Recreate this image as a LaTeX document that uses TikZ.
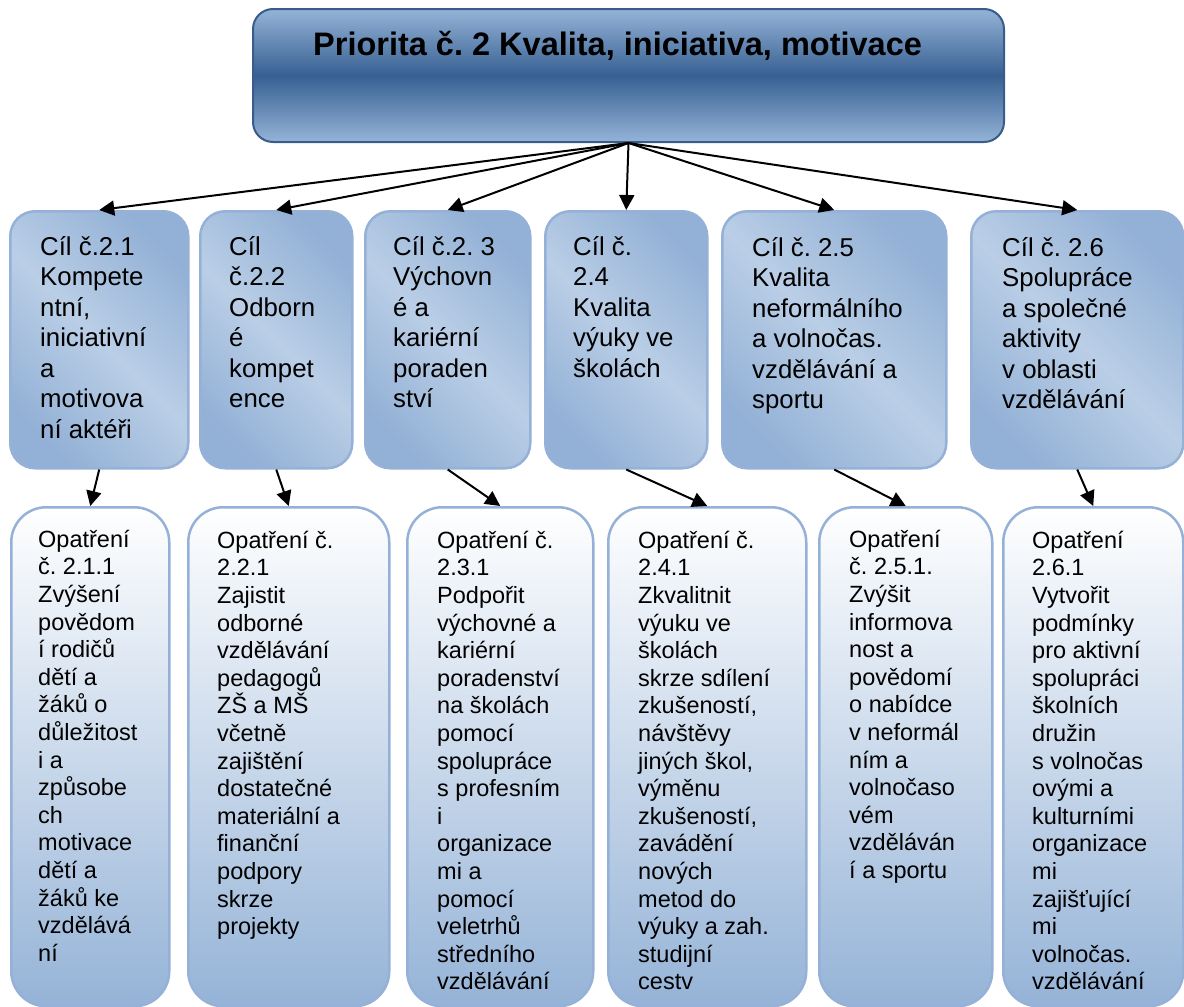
\documentclass[tikz,border=0pt]{standalone}
\usepackage{fontspec}
\setmainfont{Liberation Sans}
\usetikzlibrary{arrows.meta}
\frenchspacing

\definecolor{priolight}{HTML}{95B3D7}
\definecolor{priodark}{HTML}{376092}
\definecolor{prioedge}{HTML}{385D8A}
\definecolor{goallight}{HTML}{BACEE6}
\definecolor{goaldark}{HTML}{93B1D6}
\definecolor{goaledge}{HTML}{95B1D7}
\definecolor{measdark}{HTML}{95B3D7}
\definecolor{measedge}{HTML}{95B1D7}

% fixed height of the first line, so that every text starts at the same baseline
\newcommand\gstrut{\rule{0pt}{24pt}}
\newcommand\mstrut{\rule{0pt}{21pt}}

\tikzset{
  prio/.style={draw=prioedge,line width=2pt,rounded corners=20pt,
    top color=priolight,bottom color=priolight,middle color=priodark,
    minimum width=751pt,minimum height=133pt,anchor=north west,inner sep=0pt},
  goalbox/.style={draw=goaledge,line width=2.5pt,rounded corners=25pt,
    top color=goaldark,bottom color=goaldark,middle color=goallight,shading angle=-45,
    minimum height=257pt,anchor=north west,inner sep=0pt},
  measbox/.style={draw=measedge,line width=2.5pt,rounded corners=35pt,
    top color=white,bottom color=measdark,
    minimum height=499pt,anchor=north west,inner sep=0pt},
  priotext/.style={anchor=base west,inner sep=0pt,font=\bfseries\fontsize{32.5}{38}\selectfont},
  goaltext/.style={anchor=north west,align=left,inner sep=0pt,font=\fontsize{25.8}{30.5}\selectfont},
  meastext/.style={anchor=north west,align=left,inner sep=0pt,font=\fontsize{23.5}{27.6}\selectfont},
  link/.style={line width=2pt,-{Triangle[length=15pt,width=15pt]}},
}

\begin{document}
\begin{tikzpicture}[x=1pt,y=-1pt]
  \useasboundingbox (0,0) rectangle (1184,1007);

  % priority
  \node[prio] (prio) at (252,8) {};
  \node[priotext] (priot) at (313,55) {Priorita č. 2 Kvalita, iniciativa, motivace};

  % goals
  \node[goalbox,minimum width=178pt] (g1) at (9,210) {};
  \node[goalbox,minimum width=152pt] (g2) at (199,210) {};
  \node[goalbox,minimum width=165pt] (g3) at (364,210) {};
  \node[goalbox,minimum width=162pt] (g4) at (544,210) {};
  \node[goalbox,minimum width=224pt] (g5) at (721,210) {};
  \node[goalbox,minimum width=212pt] (g6) at (970,210) {};

  \node[goaltext] (g1t) at (40,231) {\gstrut Cíl č.2.1\\Kompete\\ntní,\\iniciativní\\a\\motivova\\ní aktéři};
  \node[goaltext] (g2t) at (229,231) {\gstrut Cíl\\č.2.2\\Odborn\\é\\kompet\\ence};
  \node[goaltext] (g3t) at (393,231) {\gstrut Cíl č.2. 3\\Výchovn\\é a\\kariérní\\poraden\\ství};
  \node[goaltext] (g4t) at (573,231) {\gstrut Cíl č.\\2.4\\Kvalita\\výuky ve\\školách};
  \node[goaltext] (g5t) at (752,232) {\gstrut Cíl č. 2.5\\Kvalita\\neformálního\\a volnočas.\\vzdělávání a\\sportu};
  \node[goaltext] (g6t) at (1002,232) {\gstrut Cíl č. 2.6\\Spolupráce\\a společné\\aktivity\\v oblasti\\vzdělávání};

  % measures
  \node[measbox,minimum width=158pt] (m1) at (10,506) {};
  \node[measbox,minimum width=201pt] (m2) at (187,506) {};
  \node[measbox,minimum width=186pt] (m3) at (406,506) {};
  \node[measbox,minimum width=198pt] (m4) at (607,506) {};
  \node[measbox,minimum width=173pt] (m5) at (818,506) {};
  \node[measbox,minimum width=180pt] (m6) at (1002,506) {};

  \node[meastext] (m1t) at (38,526) {\mstrut Opatření\\č. 2.1.1\\Zvýšení\\povědom\\í rodičů\\dětí a\\žáků o\\důležitost\\i a\\způsobe\\ch\\motivace\\dětí a\\žáků ke\\vzdělává\\ní};
  \node[meastext] (m2t) at (217,527) {\mstrut Opatření č.\\2.2.1\\Zajistit\\odborné\\vzdělávání\\pedagogů\\ZŠ a MŠ\\včetně\\zajištění\\dostatečné\\materiální a\\finanční\\podpory\\skrze\\projekty};
  \node[meastext] (m3t) at (437,527) {\mstrut Opatření č.\\2.3.1\\Podpořit\\výchovné a\\kariérní\\poradenství\\na školách\\pomocí\\spolupráce\\s profesním\\i\\organizace\\mi a\\pomocí\\veletrhů\\středního\\vzdělávání};
  \node[meastext] (m4t) at (638,527) {\mstrut Opatření č.\\2.4.1\\Zkvalitnit\\výuku ve\\školách\\skrze sdílení\\zkušeností,\\návštěvy\\jiných škol,\\výměnu\\zkušeností,\\zavádění\\nových\\metod do\\výuky a zah.\\studijní\\cestv};
  \node[meastext] (m5t) at (849,526) {\mstrut Opatření\\č. 2.5.1.\\Zvýšit\\informova\\nost a\\povědomí\\o nabídce\\v neformál\\ním a\\volnočaso\\vém\\vzděláván\\í a sportu};
  \node[meastext] (m6t) at (1032,527) {\mstrut Opatření\\2.6.1\\Vytvořit\\podmínky\\pro aktivní\\spolupráci\\školních\\družin\\s volnočas\\ovými a\\kulturními\\organizace\\mi\\zajišťující\\mi\\volnočas.\\vzdělávání};

  % arrows
  \path[draw,link] (prio.south) -- (g1.north);
  \path[draw,link] (prio.south) -- (g2.north);
  \path[draw,link] (prio.south) -- (g3.north);
  \path[draw,link] (prio.south) -- (g4.north);
  \path[draw,link] (prio.south) -- (g5.north);
  \path[draw,link] (prio.south) -- (g6.north);

  \path[draw,link] (g1.south) -- (m1.north);
  \path[draw,link] (g2.south) -- (m2.north);
  \path[draw,link] (g3.south) -- (m3.north);
  \path[draw,link] (g4.south) -- (m4.north);
  \path[draw,link] (g5.south) -- (m5.north);
  \path[draw,link] (g6.south) -- (m6.north);
\end{tikzpicture}
\end{document}
